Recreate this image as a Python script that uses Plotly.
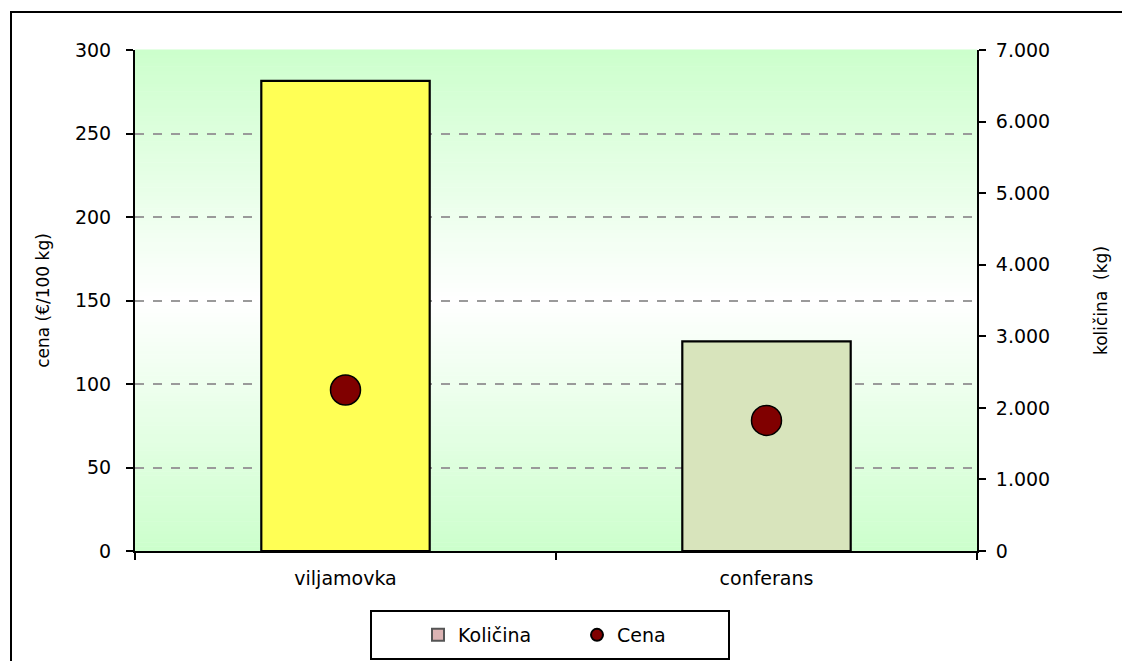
import plotly.graph_objects as go

categories = ["viljamovka", "conferans"]
kolicina_kg = [6570, 2930]
cena_eur = [96.4, 78.2]
bar_colors = ["#ffff55", "#d8e4bc"]

left_ticks = [0, 50, 100, 150, 200, 250, 300]
right_ticks = [0, 1000, 2000, 3000, 4000, 5000, 6000, 7000]

W, H = 1122, 661
L, R, T, B = 135, 145, 50, 110
pw, ph = W - L - R, H - T - B

def px_x(x):
    return (x - L) / pw

def px_y(y):
    return (H - B - y) / ph

fig = go.Figure()

# legend-only entry for the bars (also anchors the left axis subplot)
fig.add_trace(go.Bar(
    x=[None], y=[None], yaxis="y", name="Količina",
    marker=dict(color="#dcb4b4", line=dict(color="#555555", width=2)),
))
fig.add_trace(go.Bar(
    x=categories, y=kolicina_kg, yaxis="y2", width=0.4,
    marker=dict(color=bar_colors, line=dict(color="black", width=2.2)),
    showlegend=False, name="Količina", hoverinfo="skip",
))
fig.add_trace(go.Scatter(
    x=categories, y=cena_eur, mode="markers", name="Cena", yaxis="y3",
    marker=dict(color="#800000", size=30, line=dict(color="black", width=1.5)),
))

shapes = []
# gradient background of plot area
N = 120
g0 = (204, 255, 204)
for i in range(N):
    f = (i + 0.5) / N
    t = abs(f - 0.5) * 2
    c = tuple(round(255 * (1 - t) + g0[k] * t) for k in range(3))
    shapes.append(dict(type="rect", xref="paper", yref="paper", x0=0, x1=1,
                       y0=i / N, y1=(i + 1) / N + 0.001, layer="below",
                       line=dict(width=0), fillcolor="rgb(%d,%d,%d)" % c))
# outer chart border
shapes.append(dict(type="rect", xref="paper", yref="paper",
                   x0=px_x(11), x1=px_x(1140), y0=px_y(680), y1=px_y(12),
                   line=dict(color="black", width=2), fillcolor="rgba(0,0,0,0)"))
# legend box
shapes.append(dict(type="rect", xref="paper", yref="paper",
                   x0=px_x(371), x1=px_x(729), y0=px_y(659), y1=px_y(611),
                   line=dict(color="black", width=2), fillcolor="white"))

font = "DejaVu Sans, Verdana, sans-serif"

fig.update_layout(
    width=W, height=H,
    margin=dict(l=L, r=R, t=T, b=B, autoexpand=False),
    paper_bgcolor="white", plot_bgcolor="rgba(0,0,0,0)",
    separators=",.",
    font=dict(family=font, size=19, color="black"),
    shapes=shapes,
    showlegend=True,
    legend=dict(orientation="h", x=px_x(418), xanchor="left",
                y=px_y(635), yanchor="middle", bgcolor="rgba(0,0,0,0)",
                font=dict(size=19), itemsizing="constant", entrywidth=114,
                itemwidth=30),
    xaxis=dict(
        type="category", range=[-0.5, 1.5], showline=True, linecolor="black",
        linewidth=2, ticks="outside", tickson="boundaries", ticklen=7,
        tickcolor="black", tickwidth=1.5, showgrid=False, tickfont=dict(size=19),
        zeroline=False, ticklabelstandoff=9,
    ),
    yaxis=dict(
        range=[0, 300], tickvals=left_ticks, showline=True, linecolor="black",
        linewidth=2, ticks="outside", ticklen=7, tickcolor="black",
        tickwidth=1.5, showgrid=True, gridcolor="#9a9a9a", griddash="dash",
        gridwidth=1.5, zeroline=False, ticklabelstandoff=11,
        title=dict(text="cena (€/100 kg)", font=dict(size=17), standoff=21),
    ),
    yaxis2=dict(
        range=[0, 7000], tickvals=right_ticks, tickformat=",d", overlaying="y",
        side="right", showline=True, linecolor="black", linewidth=2,
        ticks="outside", ticklen=7, tickcolor="black", tickwidth=1.5,
        showgrid=False, zeroline=False, ticklabelstandoff=6,
        title=dict(text="količina  (kg)", font=dict(size=17), standoff=46),
    ),
    yaxis3=dict(range=[0, 300], overlaying="y", visible=False),
)

fig.write_html(
    "out.html",
    config={"displayModeBar": False},
    post_script="document.body.style.margin='0';document.body.style.overflow='hidden';",
)
